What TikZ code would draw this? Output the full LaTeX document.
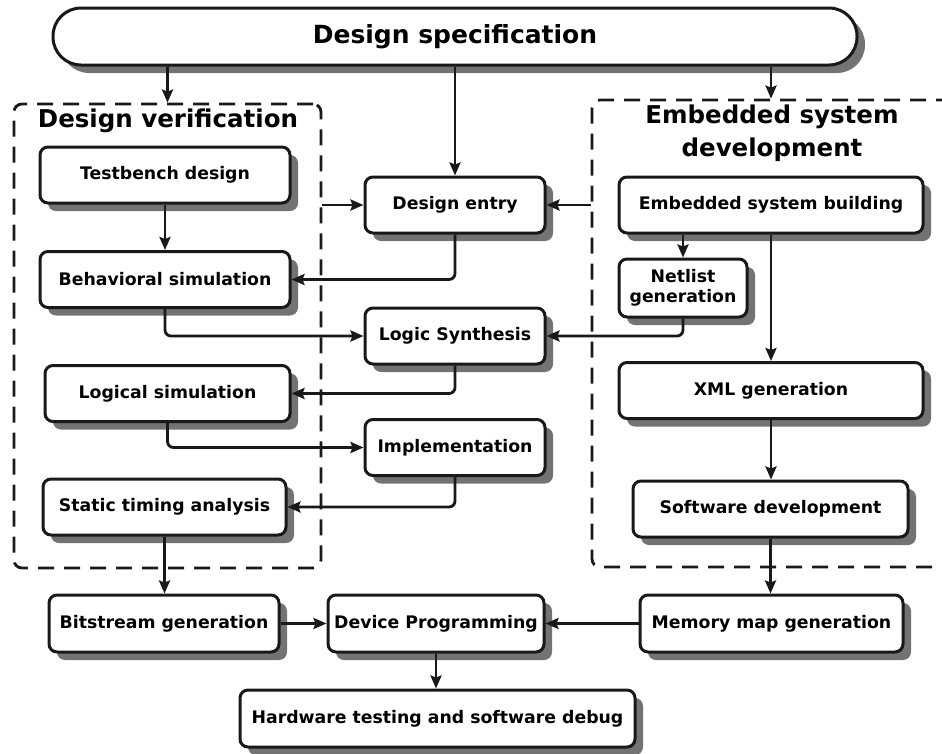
\documentclass[tikz,border=0pt]{standalone}
\usepackage{fontspec}
\setmainfont{DejaVu Sans}
\usetikzlibrary{positioning}
\usetikzlibrary{arrows.meta}
\usetikzlibrary{shadows}

\begin{document}
\begin{tikzpicture}[x=1pt, y=-1pt,
  stagebox/.style={draw=black!90, line width=3pt, rounded corners=8pt, fill=white,
    minimum height=56pt, inner sep=0pt, font=\fontsize{17.3}{20}\selectfont\bfseries, align=center,
    drop shadow={shadow xshift=8pt, shadow yshift=-8pt, fill=black!55, opacity=1}},
  groupbox/.style={draw=black!90, line width=2.8pt, rounded corners=8pt,
    dash pattern=on 16pt off 10pt, inner sep=0pt},
  grouptitle/.style={font=\fontsize{24.5}{33}\selectfont\bfseries, align=center},
  flow/.style={draw=black!90, line width=2.8pt, rounded corners=6pt,
    -{Stealth[length=13pt,width=11pt,inset=2pt]}}]

\useasboundingbox (0,0) rectangle (942,753);

% dashed groups
\node[groupbox, minimum width=307pt, minimum height=464pt] (verif) at (167.5,336) {};
\node[groupbox, minimum width=368pt, minimum height=467pt] (embed) at (776,333.5) {};
\node[grouptitle] (veriftitle) at (168,121) {Design verification};
\node[grouptitle] (embedtitle) at (772,133) {Embedded system\\development};

% top pill
\node[stagebox, rounded corners=28pt, minimum width=804pt, minimum height=57pt,
  font=\fontsize{25}{28}\selectfont\bfseries] (spec) at (455,36.5) {Design specification};

% verification column
\node[stagebox, minimum width=250pt] (testbench) at (165,175) {Testbench design};
\node[stagebox, minimum width=250pt] (behav) at (165,279.5) {Behavioral simulation};
\node[stagebox, minimum width=245pt] (logsim) at (167.5,393.5) {Logical simulation};
\node[stagebox, minimum width=243pt] (timing) at (164.5,507) {Static timing analysis};

% design flow column
\node[stagebox, minimum width=180pt] (entry) at (455,205) {Design entry};
\node[stagebox, minimum width=180pt] (synth) at (455,336) {Logic Synthesis};
\node[stagebox, minimum width=180pt] (impl) at (455,447.5) {Implementation};

% embedded column
\node[stagebox, minimum width=304pt] (building) at (771,205) {Embedded system building};
\node[stagebox, minimum width=128pt, minimum height=58pt] (netlist) at (683,288) {Netlist\\generation};
\node[stagebox, minimum width=304pt] (xml) at (771,390.5) {XML generation};
\node[stagebox, minimum width=275pt] (software) at (770.5,509) {Software development};

% bottom row
\node[stagebox, minimum width=230pt, minimum height=57pt] (bitstream) at (164,623.5) {Bitstream generation};
\node[stagebox, minimum width=216pt, minimum height=57pt] (program) at (436,623.5) {Device Programming};
\node[stagebox, minimum width=263pt, minimum height=57pt] (memmap) at (771.5,623.5) {Memory map generation};
\node[stagebox, minimum width=395pt, minimum height=57pt] (hwtest) at (437.5,718.5) {Hardware testing and software debug};

% from the specification
\draw[flow] (spec.south -| verif.north) -- (verif.north);
\draw[flow] (spec.south -| entry.north) -- (entry.north);
\draw[flow] (spec.south -| building) -- (embed.north -| building);
\draw[flow] (verif.east |- entry) -- (entry.west);
\draw[flow] (embed.west |- entry) -- (entry.east);

% left loop
\draw[flow] (testbench.south) -- (behav.north);
\draw[flow] (entry.south) |- (behav.east);
\draw[flow] (behav.south) |- (synth.west);
\draw[flow] (synth.south) |- (logsim.east);
\draw[flow] (logsim.south) |- (impl.west);
\draw[flow] (impl.south) |- (timing.east);
\draw[flow] (timing.south) -- (timing.south |- bitstream.north);

% right chain
\draw[flow] (building.south -| netlist) -- (netlist.north);
\draw[flow] (netlist.south) |- (synth.east);
\draw[flow] (building.south) -- (xml.north);
\draw[flow] (xml.south) -- (xml.south |- software.north);
\draw[flow] (software.south) -- (software.south |- memmap.north);

% bottom
\draw[flow] (bitstream.east) -- (program.west);
\draw[flow] (memmap.west) -- (program.east);
\draw[flow] (program.south) -- (program.south |- hwtest.north);

\end{tikzpicture}
\end{document}
